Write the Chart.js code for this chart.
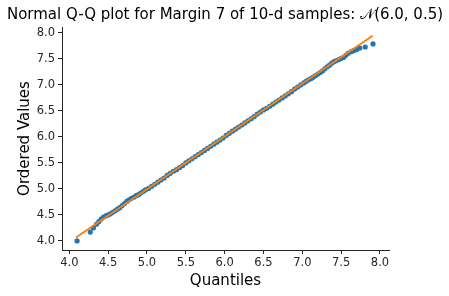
<!DOCTYPE html>
<html>
<head>
<meta charset="utf-8">
<script src="https://cdn.jsdelivr.net/npm/chart.js@4/dist/chart.umd.min.js"></script>
<style>
  html, body { margin: 0; padding: 0; background: #fff; }
</style>
</head>
<body>
<canvas id="qq" width="449" height="296"></canvas>
<script>
  // theoretical quantiles and ordered sample values
  let quantiles = [4.10, 4.27, 4.31, 4.35, 4.38, 4.41, 4.44, 4.47, 4.50, 4.53, 4.56, 4.59, 4.62, 4.65, 4.68, 4.71, 4.74, 4.77, 4.80, 4.83, 4.86, 4.89, 4.92, 4.95, 4.98,
    5.02, 5.06, 5.10, 5.14, 5.18, 5.22, 5.26, 5.30, 5.34, 5.38, 5.42, 5.46, 5.50, 5.54, 5.58, 5.62, 5.66, 5.70, 5.74, 5.78, 5.82, 5.86, 5.90, 5.94, 5.98,
    6.02, 6.06, 6.10, 6.14, 6.18, 6.22, 6.26, 6.30, 6.34, 6.38, 6.42, 6.46, 6.50, 6.54, 6.58, 6.62, 6.66, 6.70, 6.74, 6.78, 6.82, 6.86, 6.90, 6.94, 6.98,
    7.02, 7.05, 7.08, 7.11, 7.14, 7.17, 7.20, 7.23, 7.26, 7.29, 7.32, 7.35, 7.38, 7.41, 7.44, 7.47, 7.50, 7.53, 7.56, 7.59, 7.63, 7.66, 7.70, 7.74, 7.81, 7.91];
  let ordered = [4.00, 4.17, 4.25, 4.32, 4.37, 4.42, 4.46, 4.48, 4.50, 4.52, 4.55, 4.58, 4.61, 4.64, 4.68, 4.72, 4.76, 4.79, 4.82, 4.84, 4.87, 4.89, 4.92, 4.95, 4.98,
    5.01, 5.05, 5.09, 5.13, 5.17, 5.21, 5.26, 5.30, 5.34, 5.37, 5.41, 5.45, 5.50, 5.54, 5.58, 5.62, 5.66, 5.70, 5.74, 5.78, 5.82, 5.86, 5.90, 5.94, 5.98,
    6.03, 6.07, 6.11, 6.15, 6.19, 6.23, 6.27, 6.31, 6.35, 6.39, 6.44, 6.48, 6.52, 6.55, 6.59, 6.63, 6.67, 6.71, 6.75, 6.79, 6.83, 6.87, 6.92, 6.96, 7.00,
    7.04, 7.07, 7.10, 7.12, 7.15, 7.18, 7.21, 7.24, 7.27, 7.31, 7.35, 7.38, 7.42, 7.45, 7.47, 7.49, 7.51, 7.53, 7.57, 7.61, 7.64, 7.66, 7.68, 7.71, 7.73, 7.79];
  // fitted reference line end points
  let fitX = [4.086, 7.905];
  let fitY = [4.066, 7.946];

  let xTicks = [4.0, 4.5, 5.0, 5.5, 6.0, 6.5, 7.0, 7.5, 8.0];
  let yTicks = [4.0, 4.5, 5.0, 5.5, 6.0, 6.5, 7.0, 7.5, 8.0];

  let titleText = 'Normal Q-Q plot for Margin 7 of 10-d samples: \u{1D4A9}(6.0, 0.5)';
  let ink = '#262626';

  let titlePlugin = {
    id: 'topTitle',
    afterDraw(chart) {
      let c = chart.ctx;
      c.save();
      c.fillStyle = '#000';
      c.font = '15px "DejaVu Sans"';
      c.textAlign = 'center';
      c.textBaseline = 'middle';
      c.fillText(titleText, 225, 15);
      c.restore();
    }
  };

  let ctx = document.getElementById('qq').getContext('2d');
  let chart = new Chart(ctx, {
    type: 'scatter',
    data: {
      datasets: [{
        type: 'line',
        data: fitX.map((x, i) => ({x: x, y: fitY[i]})),
        borderColor: '#ff7f0e',
        borderWidth: 2,
        pointRadius: 0,
        showLine: true,
        order: 0
      }, {
        data: quantiles.map((x, i) => ({x: x, y: ordered[i]})),
        backgroundColor: '#1f77b4',
        borderWidth: 0,
        pointRadius: 2.6,
        order: 1
      }]
    },
    options: {
      responsive: false,
      devicePixelRatio: 1,
      animation: false,
      layout: { padding: { top: 27, right: 60, left: 0, bottom: 0 } },
      plugins: { legend: { display: false }, tooltip: { enabled: false } },
      scales: {
        x: {
          type: 'linear',
          min: 3.906,
          max: 8.116,
          afterBuildTicks: s => { s.ticks = xTicks.map(v => ({value: v})); },
          afterFit: s => { s.height = 46; },
          ticks: { callback: v => v.toFixed(1), color: ink, font: { family: 'DejaVu Sans', size: 11.5 }, padding: 2, maxRotation: 0 },
          grid: { drawOnChartArea: false, tickLength: 4, tickColor: ink },
          border: { color: ink, width: 1 },
          title: { display: true, text: 'Quantiles', color: '#000', font: { family: 'DejaVu Sans', size: 15 }, padding: { top: 0, bottom: 6 } }
        },
        y: {
          type: 'linear',
          min: 3.825,
          max: 8.115,
          afterBuildTicks: s => { s.ticks = yTicks.map(v => ({value: v})); },
          afterFit: s => { s.width = 62; },
          ticks: { callback: v => v.toFixed(1), color: ink, font: { family: 'DejaVu Sans', size: 11.5 }, padding: 3 },
          grid: { drawOnChartArea: false, tickLength: 4, tickColor: ink },
          border: { color: ink, width: 1 },
          title: { display: true, text: 'Ordered Values', color: '#000', font: { family: 'DejaVu Sans', size: 15 }, padding: { top: 16, bottom: 0 } }
        }
      }
    },
    plugins: [titlePlugin]
  });
</script>
</body>
</html>
